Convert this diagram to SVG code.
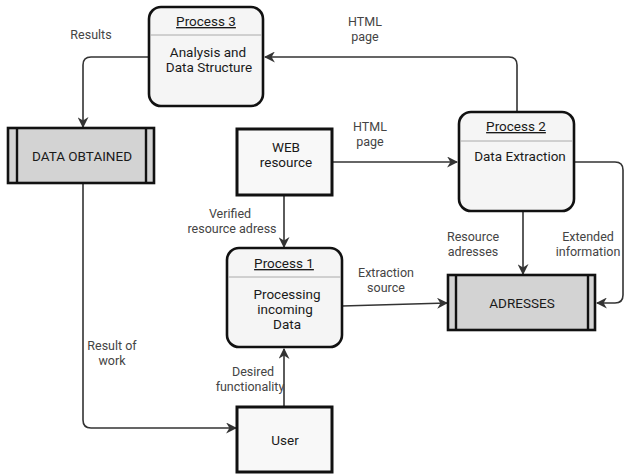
<svg xmlns="http://www.w3.org/2000/svg" width="625" height="474" viewBox="0 0 625 474">
<style>
.proc{fill:#f5f5f5;stroke:#111;stroke-width:2.6}
.div{stroke:#aaa;stroke-width:1}
.ent{fill:#f8f8f8;stroke:#111;stroke-width:3}
.store{fill:#d3d3d3;stroke:#111;stroke-width:2.6}
.bar{stroke:#111;stroke-width:2.4}
.t{font-family:Roboto,"Liberation Sans",sans-serif;font-size:13.5px;fill:#1a1a1a;text-anchor:middle}
.h{text-decoration:underline}
.lbl{font-family:Roboto,"Liberation Sans",sans-serif;font-size:12.5px;fill:#444;text-anchor:middle}
.c{fill:none;stroke:#333;stroke-width:1.6}
</style>
<defs>
<marker id="a" viewBox="0 0 10 10" refX="9" refY="5" markerWidth="11" markerHeight="11" markerUnits="userSpaceOnUse" orient="auto">
<path d="M0,0 L10,5 L0,10 L3,5 Z" fill="#333"/>
</marker>
</defs>
<rect width="625" height="474" fill="#fff"/>
<g id="connectors">
<path class="c" d="M149,57 H91 Q83,57 83,65 V127" marker-end="url(#a)"/>
<path class="c" d="M517,112 V65 Q517,57 509,57 H265" marker-end="url(#a)"/>
<path class="c" d="M332,162 H457" marker-end="url(#a)"/>
<path class="c" d="M574,162 H615 Q623,162 623,170 V295 Q623,303 615,303 H597" marker-end="url(#a)"/>
<path class="c" d="M523,211 V274" marker-end="url(#a)"/>
<path class="c" d="M284,195 V247" marker-end="url(#a)"/>
<path class="c" d="M342,306 L447,303" marker-end="url(#a)"/>
<path class="c" d="M284,406 V349" marker-end="url(#a)"/>
<path class="c" d="M83,183 V420 Q83,428 91,428 H236" marker-end="url(#a)"/>
</g>
<g id="labels">
<text class="lbl" x="91" y="39">Results</text>
<text class="lbl" x="365" y="26">HTML</text>
<text class="lbl" x="365" y="41">page</text>
<text class="lbl" x="370" y="131">HTML</text>
<text class="lbl" x="370" y="146">page</text>
<text class="lbl" x="230" y="218">Verified</text>
<text class="lbl" x="232" y="233">resource adress</text>
<text class="lbl" x="473" y="241">Resource</text>
<text class="lbl" x="473" y="256">adresses</text>
<text class="lbl" x="588" y="241">Extended</text>
<text class="lbl" x="588" y="256">information</text>
<text class="lbl" x="386" y="277">Extraction</text>
<text class="lbl" x="386" y="292">source</text>
<text class="lbl" x="112" y="350">Result of</text>
<text class="lbl" x="112" y="365">work</text>
<text class="lbl" x="253" y="376">Desired</text>
<text class="lbl" x="250" y="391">functionality</text>
</g>
<g id="process3">
<rect class="proc" x="149" y="7" width="114" height="99" rx="12"/>
<line class="div" x1="150" y1="35" x2="262" y2="35"/>
<text class="t h" x="206" y="26">Process 3</text>
<text class="t" x="208" y="57">Analysis and</text>
<text class="t" x="209" y="72">Data Structure</text>
</g>
<g id="data-obtained">
<rect class="store" x="8" y="128" width="146" height="55"/>
<line class="bar" x1="17" y1="128" x2="17" y2="183"/>
<line class="bar" x1="146" y1="128" x2="146" y2="183"/>
<text class="t" x="82" y="161">DATA OBTAINED</text>
</g>
<g id="web-resource">
<rect class="ent" x="237" y="129" width="95" height="66"/>
<text class="t" x="286" y="152">WEB</text>
<text class="t" x="286" y="167">resource</text>
</g>
<g id="process2">
<rect class="proc" x="459" y="112" width="115" height="99" rx="12"/>
<line class="div" x1="460" y1="141" x2="573" y2="141"/>
<text class="t h" x="516" y="131">Process 2</text>
<text class="t" x="520" y="161">Data Extraction</text>
</g>
<g id="process1">
<rect class="proc" x="227" y="248" width="115" height="99" rx="12"/>
<line class="div" x1="228" y1="277" x2="341" y2="277"/>
<text class="t h" x="284" y="268">Process 1</text>
<text class="t" x="287" y="299">Processing</text>
<text class="t" x="285" y="314">incoming</text>
<text class="t" x="287" y="329">Data</text>
</g>
<g id="adresses">
<rect class="store" x="448" y="275" width="147" height="55"/>
<line class="bar" x1="456" y1="275" x2="456" y2="330"/>
<line class="bar" x1="588" y1="275" x2="588" y2="330"/>
<text class="t" x="522" y="308">ADRESSES</text>
</g>
<g id="user">
<rect class="ent" x="237" y="407" width="95" height="65"/>
<text class="t" x="285" y="445">User</text>
</g>
</svg>
